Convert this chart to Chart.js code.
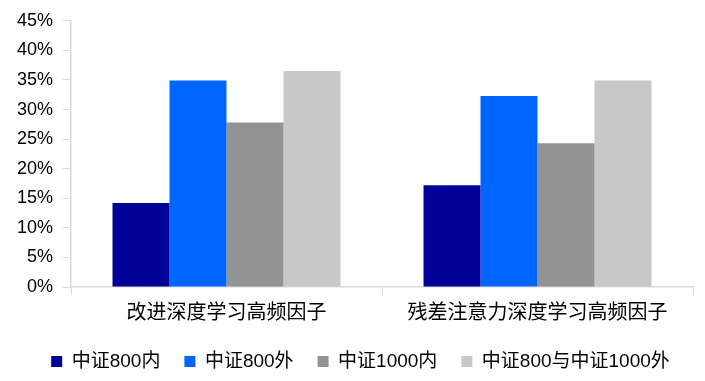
<!DOCTYPE html>
<html><head><meta charset="utf-8">
<script src="https://cdn.jsdelivr.net/npm/chart.js@4"></script>
<style>html,body{margin:0;padding:0;background:#fff;}#wrap{width:705px;height:381px;}</style>
</head><body><div id="wrap"><canvas id="c" width="705" height="381"></canvas></div>
<script>
const categories = ["改进深度学习高频因子", "残差注意力深度学习高频因子"];
const seriesNames = ["中证800内", "中证800外", "中证1000内", "中证800与中证1000外"];
const s800In = [14.2, 17.2];
const s800Out = [34.9, 32.3];
const s1000In = [27.8, 24.3];
const sOutside = [36.5, 34.9];
const yTicks = [0, 5, 10, 15, 20, 25, 30, 35, 40, 45];
const colors = ["#000099", "#0066FF", "#939393", "#C8C8C8"];

const seriesValues = [s800In, s800Out, s1000In, sOutside];
const datasets = seriesValues.map((v, i) => ({
  label: seriesNames[i], data: v, backgroundColor: colors[i], borderWidth: 0,
  categoryPercentage: 0.733, barPercentage: 1.0
}));

const shiftLegend = {
  id: 'shiftLegend',
  afterLayout(chart) {
    if (chart.legend) { chart.legend.left += 14; chart.legend.right += 14; }
  }
};

new Chart(document.getElementById('c'), {
  type: 'bar',
  data: { labels: categories, datasets },
  plugins: [shiftLegend],
  options: {
    responsive: false, animation: false, devicePixelRatio: 1,
    layout: { padding: { top: 10, right: 12, left: 0, bottom: 0 } },
    plugins: {
      tooltip: { enabled: false },
      legend: {
        position: 'bottom',
        labels: {
          boxWidth: 11, boxHeight: 11, padding: 24, color: '#000',
          font: { family: "'Liberation Sans', 'Noto Sans CJK SC', sans-serif", size: 19 }
        }
      }
    },
    scales: {
      x: {
        grid: { display: true, drawOnChartArea: false, tickLength: 8, color: '#d9d9d9', offset: true },
        border: { color: '#d9d9d9', width: 1.5 },
        ticks: { color: '#000', padding: 4, font: { family: "'Noto Sans CJK SC', sans-serif", size: 20 } },
        afterFit: s => { s.height = 41; }
      },
      y: {
        min: 0, max: 45,
        afterBuildTicks: s => { s.ticks = yTicks.map(v => ({ value: v })); },
        grid: { display: true, drawOnChartArea: false, tickLength: 8, color: '#d9d9d9' },
        border: { color: '#d9d9d9', width: 1.5 },
        ticks: { color: '#000', padding: 10, font: { family: "'Liberation Sans', Arial, sans-serif", size: 18 },
          callback: v => v + '%' },
        afterFit: s => { s.width = 71; }
      }
    }
  }
});
</script></body></html>
